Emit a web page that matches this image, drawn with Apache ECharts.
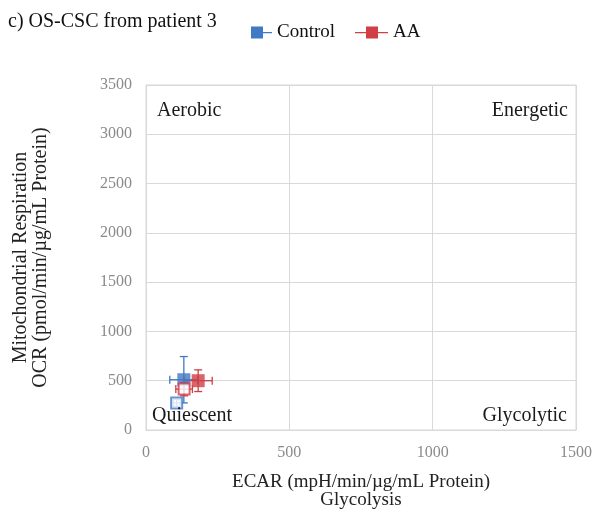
<!DOCTYPE html>
<html>
<head>
<meta charset="utf-8">
<script src="https://cdn.jsdelivr.net/npm/echarts@6/dist/echarts.min.js"></script>
<style>
  html, body { margin: 0; padding: 0; background: #fff; }
  #chart { width: 594px; height: 510px; }
</style>
</head>
<body>
<div id="chart"></div>
<script>
// Energy phenotype: OCR vs ECAR, stressed (filled) and baseline (open) states
const seriesNames = ['Control', 'AA'];
const stateNames = ['Stressed', 'Baseline'];

const controlEcar = [132, 107];
const controlOcr = [510, 275];
const controlEcarErr = [49, 12];
const controlOcrErr = [235, 35];

const aaEcar = [182, 133];
const aaOcr = [500, 415];
const aaEcarErr = [49, 29];
const aaOcrErr = [110, 68];

const xTicks = [0, 500, 1000, 1500];
const yTicks = [0, 500, 1000, 1500, 2000, 2500, 3000, 3500];

const quadrantLabels = ['Aerobic', 'Energetic', 'Quiescent', 'Glycolytic'];

const colors = { Control: '#4079c4', AA: '#cf3f45' };
const serif = '"Liberation Serif", "DejaVu Serif", serif';

function points(ecar, ocr, exErr, eyErr) {
  return ecar.map((x, i) => ({ value: [x, ocr[i], exErr[i], eyErr[i]], state: stateNames[i] }));
}

function errorBars(name, data) {
  const color = colors[name];
  return {
    type: 'custom',
    name: name,
    data: data.map(d => d.value),
    itemStyle: { color: color },
    z: 2,
    renderItem: function (params, api) {
      const x = api.value(0), y = api.value(1), ex = api.value(2), ey = api.value(3);
      const l = api.coord([x - ex, y]), r = api.coord([x + ex, y]);
      const t = api.coord([x, y + ey]), b = api.coord([x, y - ey]);
      const cap = 4;
      const style = { stroke: color, lineWidth: 1.3, fill: null };
      return {
        type: 'group',
        children: [
          { type: 'line', shape: { x1: l[0], y1: l[1], x2: r[0], y2: r[1] }, style: style },
          { type: 'line', shape: { x1: l[0], y1: l[1] - cap, x2: l[0], y2: l[1] + cap }, style: style },
          { type: 'line', shape: { x1: r[0], y1: r[1] - cap, x2: r[0], y2: r[1] + cap }, style: style },
          { type: 'line', shape: { x1: t[0], y1: t[1], x2: b[0], y2: b[1] }, style: style },
          { type: 'line', shape: { x1: t[0] - cap, y1: t[1], x2: t[0] + cap, y2: t[1] }, style: style },
          { type: 'line', shape: { x1: b[0] - cap, y1: b[1], x2: b[0] + cap, y2: b[1] }, style: style }
        ]
      };
    }
  };
}

function markers(name, data) {
  const color = colors[name];
  return {
    type: 'scatter',
    name: name,
    symbol: 'rect',
    z: 3,
    itemStyle: { color: color },
    data: data.map((d, i) => ({
      value: d.value,
      symbolSize: i === 0 ? 13 : 11,
      itemStyle: i === 0
        ? { color: color, borderColor: color, borderWidth: 0 }
        : { color: '#ffffff', borderColor: color, borderWidth: 2 }
    }))
  };
}

const controlData = points(controlEcar, controlOcr, controlEcarErr, controlOcrErr);
const aaData = points(aaEcar, aaOcr, aaEcarErr, aaOcrErr);

const chart = echarts.init(document.getElementById('chart'));

const quadText = (text, pos) => Object.assign({
  type: 'text',
  z: 10,
  style: { text: text, font: '20px ' + serif, fill: '#1a1a1a' }
}, pos);

chart.setOption({
  backgroundColor: '#ffffff',
  animation: false,
  color: [colors.Control, colors.AA],
  textStyle: { fontFamily: serif },
  title: {
    text: 'c) OS-CSC from patient 3',
    left: 3,
    top: 7,
    textStyle: { fontFamily: serif, fontSize: 20, fontWeight: 'normal', color: '#111' }
  },
  legend: [
    {
      data: [{ name: seriesNames[0], icon: 'path://M0,0h12v12h-12z M12,5.4h9v1.4h-9z', itemStyle: { color: colors.Control } }],
      left: 246, top: 18,
      itemWidth: 21, itemHeight: 12, itemGap: 5,
      textStyle: { fontFamily: serif, fontSize: 19, color: '#111' }
    },
    {
      data: [{ name: seriesNames[1], icon: 'path://M0,5.4h11v1.4h-11z M11,0h12v12h-12z M23,5.4h10v1.4h-10z', itemStyle: { color: colors.AA } }],
      left: 350, top: 18,
      itemWidth: 33, itemHeight: 12,
      textStyle: { fontFamily: serif, fontSize: 19, color: '#111' }
    }
  ],
  grid: {
    left: 146, right: 18, top: 85, bottom: 80,
    outerBoundsMode: 'none',
    show: true, borderColor: '#d9d9d9', borderWidth: 1
  },
  xAxis: {
    type: 'value',
    min: xTicks[0], max: xTicks[xTicks.length - 1], interval: 500,
    name: 'ECAR (mpH/min/µg/mL Protein)\nGlycolysis',
    nameLocation: 'middle',
    nameGap: 43,
    nameTextStyle: { fontFamily: serif, fontSize: 19, color: '#222', lineHeight: 18 },
    axisLine: { lineStyle: { color: '#d9d9d9' } },
    axisTick: { show: false },
    axisLabel: { fontFamily: serif, fontSize: 16, color: '#8a8a8a', margin: 15, formatter: v => String(v) },
    splitLine: { lineStyle: { color: '#d9d9d9' } }
  },
  yAxis: {
    type: 'value',
    min: yTicks[0], max: yTicks[yTicks.length - 1], interval: 500,
    name: 'Mitochondrial Respiration\nOCR (pmol/min/µg/mL Protein)',
    nameLocation: 'middle',
    nameGap: 95,
    nameTextStyle: { fontFamily: serif, fontSize: 20, color: '#222', lineHeight: 20 },
    axisLine: { show: true, lineStyle: { color: '#d9d9d9' } },
    axisTick: { show: false },
    axisLabel: { fontFamily: serif, fontSize: 16, color: '#8a8a8a', margin: 14, formatter: v => String(v) },
    splitLine: { lineStyle: { color: '#d9d9d9' } }
  },
  graphic: [
    quadText(quadrantLabels[0], { left: 157, top: 101 }),
    quadText(quadrantLabels[1], { right: 26, top: 101 }),
    quadText(quadrantLabels[2], { left: 152, top: 406 }),
    quadText(quadrantLabels[3], { right: 27, top: 406 })
  ],
  series: [
    errorBars(seriesNames[0], controlData),
    errorBars(seriesNames[1], aaData),
    markers(seriesNames[0], controlData),
    markers(seriesNames[1], aaData)
  ]
});
</script>
</body>
</html>
